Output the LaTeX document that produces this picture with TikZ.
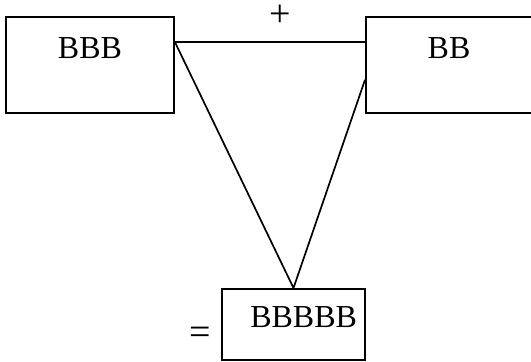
\documentclass[tikz,border=0pt]{standalone}
\usepackage{fontspec}
\setmainfont{Liberation Serif}
\begin{document}
\begin{tikzpicture}[x=1pt,y=-1pt,line width=1.7pt]
 \tikzset{box/.style={draw,line width=2pt,inner sep=0pt,font=\fontsize{32}{36}\selectfont},
          sign/.style={inner sep=0pt,anchor=base,font=\fontsize{38}{42}\selectfont}}
 \useasboundingbox (0,0) rectangle (531,362);
 \node [box,minimum width=168pt,text height=41pt,text depth=55pt] (bbb) at (90,65) {BBB};
 \node [box,minimum width=166pt,text height=41pt,text depth=55pt] (bb) at (449,65) {BB};
 \node [box,text width=127pt,inner xsep=8pt,align=right,text height=38pt,text depth=33pt] (res) at (293.5,324.5) {BBBBB};
 \node [sign] (plus) at (280,26) {+};
 \node [sign] (eq) at (200,344) {=};
 \draw (bbb.15.3) -- (bbb.15.3 -| bb.west);
 \draw (bbb.15.3) -- (res.north) -- (bb.190.2);
\end{tikzpicture}
\end{document}
